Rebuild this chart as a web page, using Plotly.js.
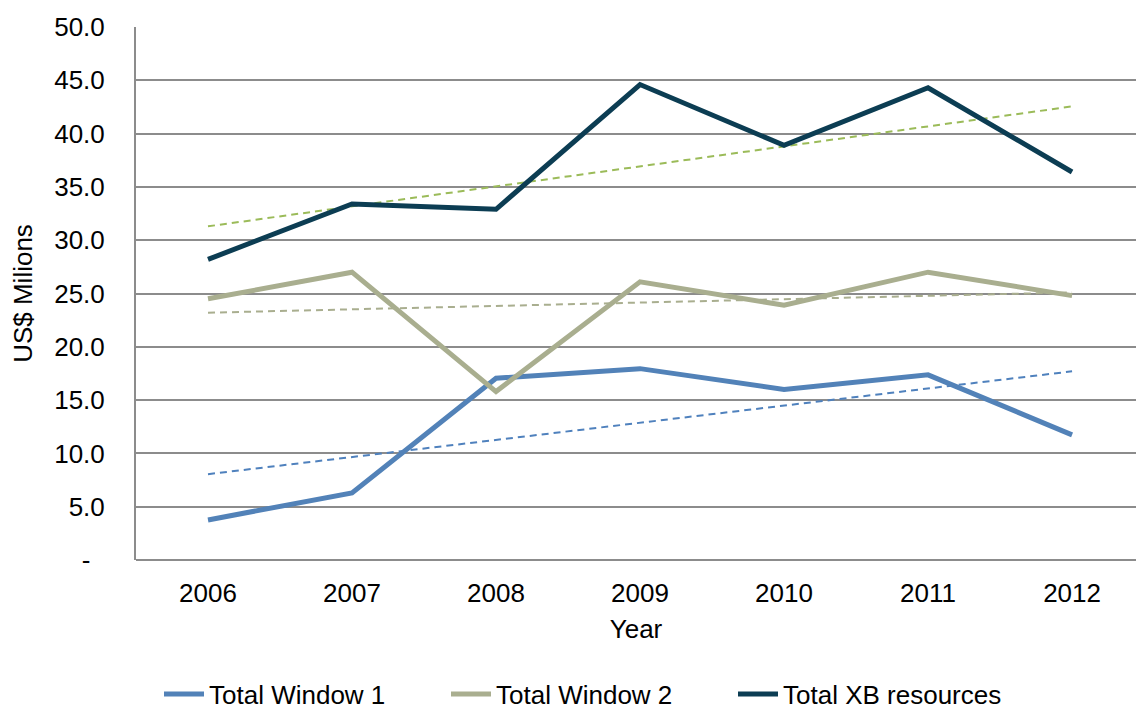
<!DOCTYPE html>
<html>
<head>
<meta charset="utf-8">
<script src="https://cdn.plot.ly/plotly-3.0.1.min.js"></script>
<style>html,body{margin:0;padding:0;background:#fff;overflow:hidden}#chart{width:1136px;height:711px}</style>
</head>
<body>
<div id="chart"></div>
<script>
const years = ["2006", "2007", "2008", "2009", "2010", "2011", "2012"];
const window1 = [3.76, 6.3, 17.05, 17.95, 16.0, 17.37, 11.74];
const window2 = [24.5, 27.0, 15.8, 26.1, 23.9, 27.0, 24.8];
const xbResources = [28.2, 33.4, 32.9, 44.6, 38.9, 44.3, 36.4];
// trend lines (start at 2006, end at 2012)
const trendYears = ["2006", "2012"];
const trendWindow1 = [8.05, 17.7];
const trendWindow2 = [23.2, 25.1];
const trendXB = [31.3, 42.55];
const yTickVals = [0, 5, 10, 15, 20, 25, 30, 35, 40, 45, 50];
const yTickText = ["-\u00a0\u00a0", "5.0", "10.0", "15.0", "20.0", "25.0", "30.0", "35.0", "40.0", "45.0", "50.0"];

const cW1 = "#5282b8", cW2 = "#a9ae8f", cXB = "#0c3d53";
const traces = [
  {x: trendYears, y: trendWindow1, mode: "lines", showlegend: false, line: {color: "#4f81bd", width: 2, dash: "7px,5px"}},
  {x: trendYears, y: trendWindow2, mode: "lines", showlegend: false, line: {color: "#a9ae8f", width: 2, dash: "7px,5px"}},
  {x: trendYears, y: trendXB, mode: "lines", showlegend: false, line: {color: "#9bbb59", width: 2, dash: "7px,5px"}},
  {x: years, y: window1, mode: "lines", name: "Total Window 1", line: {color: cW1, width: 5}},
  {x: years, y: window2, mode: "lines", name: "Total Window 2", line: {color: cW2, width: 5}},
  {x: years, y: xbResources, mode: "lines", name: "Total XB resources", line: {color: cXB, width: 5}}
];
const font = {family: "Liberation Sans, Arial, sans-serif", size: 26, color: "#000"};
const layout = {
  width: 1136, height: 711,
  margin: {l: 136, r: 0, t: 27, b: 151},
  paper_bgcolor: "#fff", plot_bgcolor: "#fff",
  font: font,
  hovermode: false,
  xaxis: {
    type: "category", categoryorder: "array", categoryarray: years,
    range: [-0.5, 6.444],
    showgrid: false, zeroline: false,
    showline: false, ticks: "",
    ticklabelstandoff: 15,
    tickfont: {size: 26},
    title: {text: "Year", font: {size: 26}, standoff: 12}
  },
  yaxis: {
    range: [0, 50], tickvals: yTickVals, ticktext: yTickText,
    showgrid: true, gridcolor: "#8c8c8c", gridwidth: 2,
    zeroline: true, zerolinecolor: "#8c8c8c", zerolinewidth: 2,
    showline: true, linecolor: "#8c8c8c", linewidth: 2,
    ticks: "", ticklabelstandoff: 24,
    tickfont: {size: 26},
    title: {text: "US$ Milions", font: {size: 26}, standoff: 14}
  },
  legend: {
    orientation: "h", x: 159 / 1136, xanchor: "left", xref: "container",
    y: 17 / 711, yanchor: "middle", yref: "container",
    font: {size: 26}, entrywidth: 232, itemwidth: 40,
    traceorder: "normal"
  },
  showlegend: true
};
Plotly.newPlot("chart", traces, layout, {displayModeBar: false, staticPlot: true});
</script>
</body>
</html>
